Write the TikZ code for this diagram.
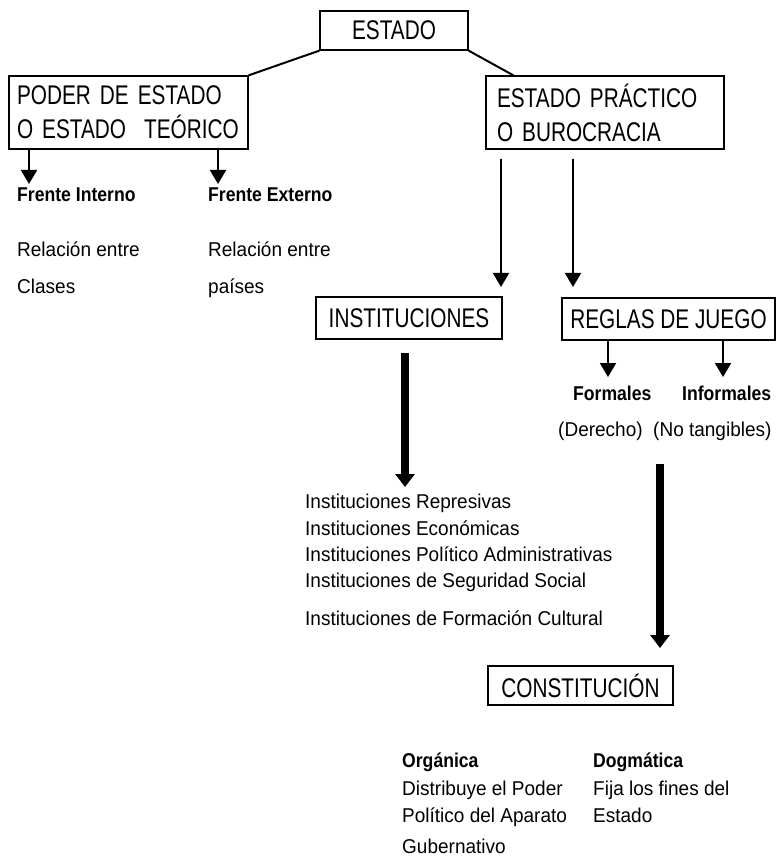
\documentclass[tikz,border=0pt]{standalone}
\usepackage{fontspec}
\usetikzlibrary{arrows.meta}
\newfontfamily\boxfont[FakeStretch=0.77]{Liberation Sans}
\newfontfamily\txtfont[FakeStretch=0.95]{Liberation Sans}
\newfontfamily\txtbold[FakeStretch=0.88]{Liberation Sans Bold}

\tikzset{
  caja/.style={draw, line width=1.3pt, inner sep=0pt, font=\boxfont\fontsize{27}{34}\selectfont},
  texto/.style={anchor=base west, inner sep=0pt, font=\txtfont\fontsize{20}{24}\selectfont},
  titulo/.style={anchor=base west, inner sep=0pt, font=\txtbold\fontsize{20}{24}\selectfont},
  linea/.style={line width=2pt},
  flecha/.style={line width=2pt, -{Triangle[width=16pt,length=14pt]}},
  grueso/.style={line width=8pt, -{Triangle[width=19pt,length=13pt]}},
}

\begin{document}
\begin{tikzpicture}[x=1pt,y=-1pt]
\useasboundingbox (0,0) rectangle (776,858);

\def\xi{305}
\def\xo{402}
\def\xd{593}

% cajas
\node[caja, minimum width=148pt, minimum height=39pt] (estado) at (394,30.5) {ESTADO};
\node[caja, minimum width=239pt, minimum height=73pt, text width=223pt, align=left] (poder) at (128.5,112.5) {PODER DE ESTADO\\O ESTADO\ \ TEÓRICO};
\node[caja, minimum width=238pt, minimum height=73pt, text width=216pt, align=left] (practico) at (605,112.5) {ESTADO PRÁCTICO\\O BUROCRACIA};
\node[caja, minimum width=186pt, minimum height=42pt] (inst) at (409,318) {INSTITUCIONES};
\node[caja, minimum width=213pt, minimum height=42pt] (reglas) at (668.5,319) {REGLAS DE JUEGO};
\node[caja, minimum width=185pt, minimum height=39pt] (const) at (580.5,685.5) {CONSTITUCIÓN};

\draw[linea] (estado.south west) -- (poder.north east);
\draw[linea] (estado.south east) -- ([xshift=28pt]practico.north west);

% poder de estado
\node[titulo] (fint) at (17,202) {Frente Interno};
\node[titulo] (fext) at (208,202) {Frente Externo};
\node[texto] (relA) at (17,257) {Relación entre};
\node[texto] (clases) at (17,293) {Clases};
\node[texto] (relB) at (208,257) {Relación entre};
\node[texto] (paises) at (208,293) {países};

\coordinate (tipA) at (29,184);
\coordinate (tipB) at (218,184);
\draw[flecha] (tipA |- poder.south) -- (tipA);
\draw[flecha] (tipB |- poder.south) -- (tipB);

% estado practico
\coordinate (topC) at (501,159);
\coordinate (tipC) at (501,287);
\coordinate (topD) at (573,159);
\coordinate (tipD) at (573,287);
\draw[flecha] (topC) -- (tipC);
\draw[flecha] (topD) -- (tipD);

% reglas de juego
\node[titulo] (form) at (573,400) {Formales};
\node[titulo] (inform) at (682,400) {Informales};
\node[texto] (der) at (558,436) {(Derecho)};
\node[texto] (notang) at (653,436) {(No tangibles)};

\coordinate (tipE) at (608,377);
\coordinate (tipF) at (723,377);
\draw[flecha] (tipE |- reglas.south) -- (tipE);
\draw[flecha] (tipF |- reglas.south) -- (tipF);

% instituciones
\coordinate (topG) at (405,353);
\coordinate (tipG) at (405,487);
\draw[grueso] (topG) -- (tipG);

\node[texto] (i1) at (\xi,508) {Instituciones Represivas};
\node[texto] (i2) at (\xi,535) {Instituciones Económicas};
\node[texto] (i3) at (\xi,561) {Instituciones Político Administrativas};
\node[texto] (i4) at (\xi,587) {Instituciones de Seguridad Social};
\node[texto] (i5) at (\xi,625) {Instituciones de Formación Cultural};

\coordinate (topH) at (660,464);
\coordinate (tipH) at (660,648);
\draw[grueso] (topH) -- (tipH);

% constitucion
\node[titulo] (org) at (\xo,767) {Orgánica};
\node[texto] (orgA) at (\xo,795) {Distribuye el Poder};
\node[texto] (orgB) at (\xo,822) {Político del Aparato};
\node[texto] (orgC) at (\xo,853) {Gubernativo};

\node[titulo] (dog) at (\xd,767) {Dogmática};
\node[texto] (dogA) at (\xd,795) {Fija los fines del};
\node[texto] (dogB) at (\xd,822) {Estado};

\end{tikzpicture}
\end{document}
